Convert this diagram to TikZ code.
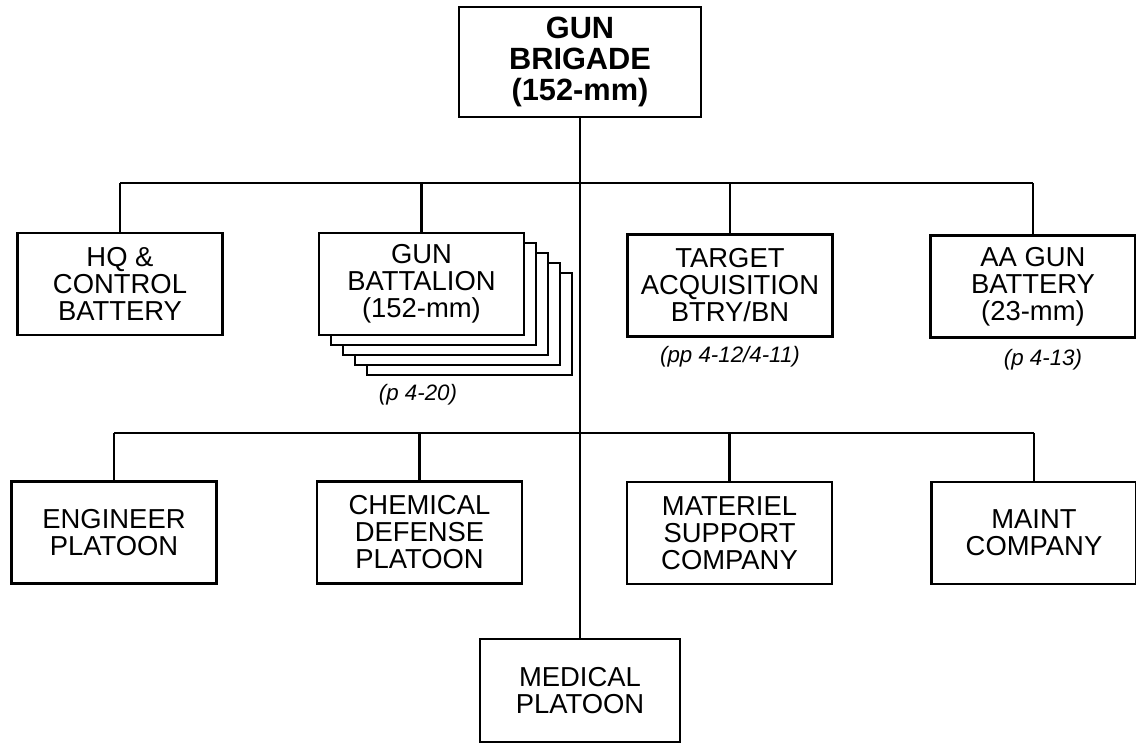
\documentclass[tikz,border=0pt]{standalone}
\usepackage{fontspec}
\setmainfont{Liberation Sans}
\usetikzlibrary{calc}

\tikzset{
  unit/.style={draw,fill=white,line width=1.2pt,align=center,inner sep=2pt,
    minimum width=4.1cm,minimum height=2.04cm,
    font={\fontsize{15.6}{15.4}\selectfont}},
  topunit/.style={unit,minimum width=4.84cm,minimum height=2.2cm,
    font={\bfseries\fontsize{17.5}{17.6}\selectfont}},
  pageref/.style={font={\itshape\fontsize{12.7}{14}\selectfont}},
  link/.style={line width=1.2pt}
}

\begin{document}
\begin{tikzpicture}[x=0.02cm,y=-0.02cm]
    \useasboundingbox (0,0) rectangle (1136,743);
    % brigade
    \node[topunit] (brig) at (580,62) {GUN\\BRIGADE\\(152-mm)};
    % first row
    \node[unit] (hq) at (120,284) {HQ \&\\CONTROL\\BATTERY};
    \foreach \k in {4,3,2,1}
      \draw[fill=white,line width=1.2pt] (319+12*\k,233+10*\k) rectangle (524+12*\k,335+10*\k);
    \node[unit] (gunbn) at (421.5,284) {GUN\\BATTALION\\(152-mm)};
    \node[unit] (tgt) at (730,285.5) {TARGET\\ACQUISITION\\BTRY/BN};
    \node[unit] (aa) at (1033,286.5) {AA GUN\\BATTERY\\(23-mm)};
    \node[pageref] (lblbn) at (418,395) {(p 4-20)};
    \node[pageref] (lbltgt) at (730,357) {(pp 4-12/4-11)};
    \node[pageref] (lblaa) at (1043,360) {(p 4-13)};
    % second row
    \node[unit] (eng) at (114,532.5) {ENGINEER\\PLATOON};
    \node[unit] (chem) at (419.5,532.5) {CHEMICAL\\DEFENSE\\PLATOON};
    \node[unit] (mat) at (729.5,533) {MATERIEL\\SUPPORT\\COMPANY};
    \node[unit] (maint) at (1034,533) {MAINT\\COMPANY};
    \node[unit,minimum width=4cm,minimum height=2.06cm] (med) at (580,690.5) {MEDICAL\\PLATOON};
    % connectors
    \coordinate (bar1) at (0,183);
    \coordinate (bar2) at (0,433);
    \draw[link] (brig.south) -- (med.north);
    \draw[link] (hq.north |- bar1) -- (aa.north |- bar1);
    \foreach \n in {hq,gunbn,tgt,aa}
      \draw[link] (\n.north) -- (\n.north |- bar1);
    \draw[link] (eng.north |- bar2) -- (maint.north |- bar2);
    \foreach \n in {eng,chem,mat,maint}
      \draw[link] (\n.north) -- (\n.north |- bar2);
\end{tikzpicture}
\end{document}
